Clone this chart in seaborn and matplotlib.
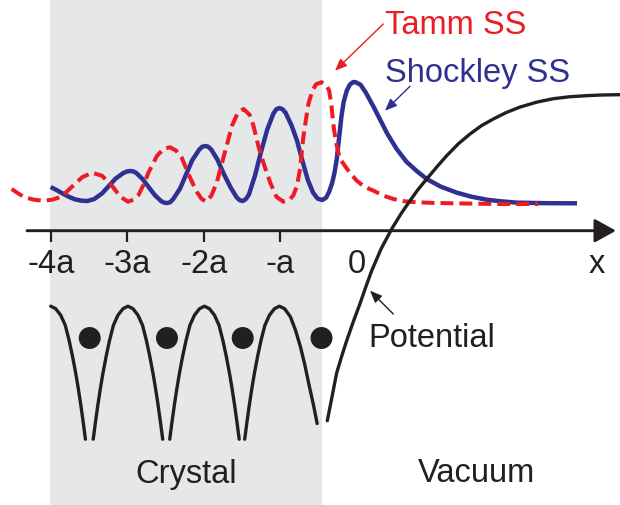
import matplotlib
matplotlib.use("Agg")
import matplotlib.pyplot as plt
import seaborn as sns

# ---------------- data (x in units of lattice constant a, y in arbitrary units) -------------
tick_pos = [-4, -3, -2, -1, 0]
tick_labels = ["-4a", "-3a", "-2a", "-a", "0"]
ticked = [-4, -3, -2, -1]

crystal_left, crystal_right = -4.01, -0.457

# Shockley surface state |psi|^2 (blue, solid)
shockley_x = [-4.00, -3.92, -3.84, -3.76, -3.68, -3.60, -3.52,
              -3.43, -3.33, -3.24, -3.15, -3.05, -3.00, -2.96, -2.92,
              -2.88, -2.80, -2.72, -2.64, -2.56, -2.52, -2.48, -2.44,
              -2.40, -2.31, -2.23, -2.15, -2.06, -2.02, -1.98, -1.94,
              -1.90, -1.82, -1.74, -1.65, -1.57, -1.53, -1.49, -1.45,
              -1.41, -1.33, -1.25, -1.17, -1.09, -1.05, -1.01, -0.97,
              -0.93, -0.85, -0.78, -0.71, -0.64, -0.57, -0.51,
              -0.45, -0.40, -0.36, -0.32, -0.29, -0.26, -0.23, -0.20, -0.17, -0.13, -0.09, -0.05, -0.02,
              0.05, 0.12, 0.22, 0.30, 0.40, 0.52, 0.65, 0.78, 0.915, 1.10, 1.31, 1.50, 1.70, 1.87,
              2.10, 2.50, 2.88]
shockley_y = [43.7, 40.5, 37.0, 33.8, 31.3, 30.0, 29.7,
              31.7, 37.2, 44.7, 52.2, 57.7, 59.3, 59.7, 59.3,
              57.6, 51.7, 43.7, 35.7, 29.8, 28.1, 27.7, 28.4,
              31.5, 42.0, 56.2, 70.5, 80.9, 84.0, 84.7, 84.0,
              81.0, 71.0, 57.2, 43.5, 33.4, 30.5, 29.7, 31.5,
              36, 55, 79, 101, 117, 121.5, 122.7, 121.5,
              118, 105, 90, 70, 51, 38, 32,
              30.7, 33, 39, 48, 58, 72, 93, 114, 129, 140, 146, 148.5, 148.7,
              146, 138, 124, 112, 97, 82, 69, 60, 51.7, 44, 38, 34, 31, 29.5,
              28, 27.5, 27.4]

# Tamm surface state |psi|^2 (red, dashed)
tamm_x = [-4.51, -4.42, -4.34, -4.22, -4.10, -3.98, -3.86, -3.73, -3.59, -3.46, -3.33, -3.20, -3.09, -2.99,
          -2.92, -2.85, -2.78, -2.72, -2.61, -2.52, -2.44, -2.36, -2.29, -2.18, -2.10, -2.03, -1.97,
          -1.90, -1.83, -1.76, -1.70, -1.63, -1.56, -1.48, -1.40, -1.35, -1.29, -1.22, -1.13, -1.05, -0.96,
          -0.88, -0.83, -0.78, -0.74, -0.70, -0.66, -0.63, -0.58, -0.53, -0.46,
          -0.40, -0.36, -0.33, -0.30, -0.27, -0.22, -0.10, 0.00, 0.10, 0.22, 0.35, 0.48, 0.62, 0.78,
          1.00, 1.40, 1.87, 2.37]
tamm_y = [41.7, 37, 33.4, 31, 30, 31, 34, 43.4, 53.4, 58, 55, 45, 34, 29,
          31, 36, 47, 58.4, 75, 82, 83.4, 80, 73.4, 53.4, 40, 32, 29,
          35, 48, 68, 85, 105, 117, 121.7, 116, 105, 86, 68, 48, 34, 29,
          31, 35, 45, 62, 92, 113, 127, 140, 146.5, 148.5,
          146, 140, 125, 103, 88, 72, 59, 50, 44, 40, 35, 31.7, 29.5, 28.4,
          27.8, 27.2, 26.7, 26.7]

# crystal potential: arch profile around each maximum, arch centres
arch_centres = [-4.00, -2.99, -1.99, -1.01]
arch_top = -75.5
arch_dx = [0, 0.065, 0.131, 0.19, 0.24, 0.285, 0.327, 0.36, 0.392, 0.425, 0.454]
arch_depth = [0, 2.5, 9, 19, 34, 50, 67, 82, 98, 116, 133]
# right flank of the last (surface) arch
surf_dx = [0, 0.07, 0.144, 0.21, 0.275, 0.33, 0.383, 0.44, 0.493]
surf_depth = [0, 2.7, 10.7, 24, 40.7, 58, 77.3, 97, 117.3]

# vacuum side of the potential
vac_x = [-0.384, -0.32, -0.261, -0.19, -0.131, -0.04, 0.043, 0.12, 0.196, 0.32, 0.457, 0.58, 0.697,
         0.80, 0.915, 1.05, 1.176, 1.33, 1.481, 1.63, 1.786, 1.95, 2.13, 2.35, 2.57, 2.79, 3.0, 3.2, 3.44]
vac_y = [-190, -165, -142, -124, -110, -90, -73, -56, -40, -18, 1.7, 17, 30,
         41, 51.7, 64, 75, 87, 96.7, 105, 111.7, 118, 123.5, 128.5, 132, 134, 135, 135.7, 136]

atom_x = [-3.49, -2.48, -1.49, -0.46]
atom_y = [-107.3, -107.3, -107.3, -107.3]

# ---------------- style ----------------
sns.set_theme(style="white")
plt.rcParams['font.family'] = ['Liberation Sans', 'DejaVu Sans']

BLUE = "#2E3192"
RED = "#ED1C24"
DARK = "#231F20"
SHADE = "#E6E7E8"
FS = 23.5

W, H, DPI = 620, 506, 100
X0_PX, A_PX, AXIS_PX = 356.7, 76.5, 231.7

fig = plt.figure(figsize=(W / DPI, H / DPI), dpi=DPI)
ax = fig.add_axes([0, 0, 1, 1])
ax.set_axis_off()
ax.set_xlim(-X0_PX / A_PX, (W - X0_PX) / A_PX)
ax.set_ylim(-(H - AXIS_PX), AXIS_PX)


def px(xp, yp):
    """layout helper: figure pixel -> data coordinates"""
    return ((xp - X0_PX) / A_PX, AXIS_PX - yp)


# crystal region
ax.axvspan(crystal_left, crystal_right, color=SHADE, lw=0, zorder=0)

# wave functions
sns.lineplot(x=shockley_x, y=shockley_y, ax=ax, color=BLUE, lw=3.2, sort=False,
             estimator=None, zorder=3, solid_capstyle="butt", solid_joinstyle="round")
sns.lineplot(x=tamm_x, y=tamm_y, ax=ax, color=RED, lw=2.9, sort=False, estimator=None,
             zorder=4, linestyle=(0, (3.2, 1.5)), dash_capstyle="butt", dash_joinstyle="round")

# potential
for i, c in enumerate(arch_centres):
    xs, ys = [], []
    if i > 0:
        xs += [c - d for d in arch_dx[::-1]]
        ys += [arch_top - d for d in arch_depth[::-1]]
    if i < len(arch_centres) - 1:
        xs += [c + d for d in arch_dx[1:]]
        ys += [arch_top - d for d in arch_depth[1:]]
    else:
        xs += [c + d for d in surf_dx[1:]]
        ys += [arch_top - d for d in surf_depth[1:]]
    if i == 0:
        xs = [c] + xs
        ys = [arch_top] + ys
    sns.lineplot(x=xs, y=ys, ax=ax, color=DARK, lw=2.4, sort=False, estimator=None, zorder=5,
                 solid_joinstyle="round")
sns.lineplot(x=vac_x, y=vac_y, ax=ax, color=DARK, lw=2.4, sort=False, estimator=None, zorder=5,
             solid_joinstyle="round")

sns.scatterplot(x=atom_x, y=atom_y, ax=ax, s=250, color=DARK, edgecolor="none", zorder=6)

# x axis with arrow
ax.annotate("", xy=px(616, AXIS_PX), xytext=px(27, AXIS_PX),
            arrowprops=dict(arrowstyle="-|>,head_length=0.65,head_width=0.36", mutation_scale=20,
                            lw=2.1, color=DARK, shrinkA=0, shrinkB=0), zorder=7)
ax.vlines(ticked, -11, 0, color=DARK, lw=1.6, zorder=7)
for p, lab in zip(tick_pos, tick_labels):
    ax.text(p, AXIS_PX - 273, lab, ha="center", va="baseline", fontsize=FS, color=DARK)
ax.text(*px(597, 273), "x", ha="center", va="baseline", fontsize=FS, color=DARK)

# labels and pointers
ax.text(*px(385, 34), "Tamm SS", ha="left", va="baseline", fontsize=FS, color=RED)
ax.text(*px(385, 82), "Shockley SS", ha="left", va="baseline", fontsize=FS, color=BLUE)
ax.text(*px(368, 346.7), "Potential", ha="left", va="baseline", fontsize=FS, color=DARK)
ax.text(*px(186, 483), "Crystal", ha="center", va="baseline", fontsize=FS, color=DARK)
ax.text(*px(476, 481.7), "Vacuum", ha="center", va="baseline", fontsize=FS, color=DARK)

small = "-|>,head_length=0.6,head_width=0.25"
ax.annotate("", xy=px(335, 71.7), xytext=px(383.3, 25),
            arrowprops=dict(arrowstyle=small, mutation_scale=12, lw=1.0, color=RED,
                            shrinkA=0, shrinkB=0))
ax.annotate("", xy=px(385, 111.7), xytext=px(410, 87.3),
            arrowprops=dict(arrowstyle=small, mutation_scale=12, lw=1.0, color=BLUE,
                            shrinkA=0, shrinkB=0))
ax.annotate("", xy=px(370, 291.7), xytext=px(393.3, 315),
            arrowprops=dict(arrowstyle=small, mutation_scale=12, lw=1.0, color=DARK,
                            shrinkA=0, shrinkB=0))

fig.savefig("out.png", dpi=DPI)
